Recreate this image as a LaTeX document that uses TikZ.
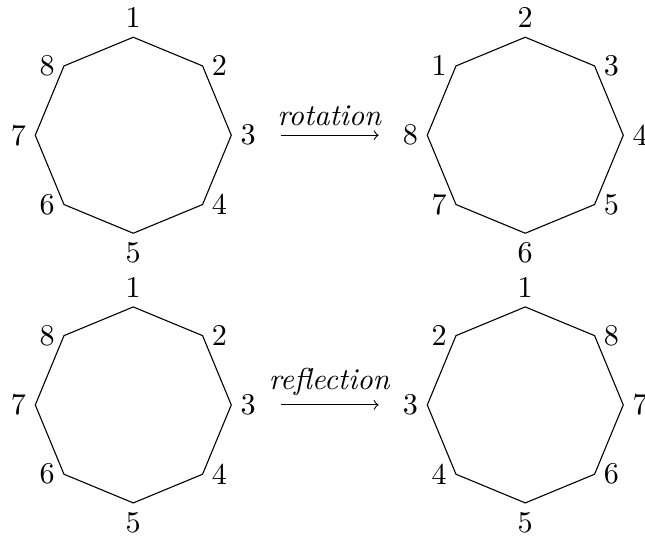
\documentclass[tikz,border=0pt]{standalone}
\usetikzlibrary{calc}
\tikzset{
  every node/.style={font=\fontsize{10.95}{13.6}\selectfont},
  edge/.style={draw, line width=0.4pt},
  vtx/.style={coordinate},
  arr/.style={->, line width=0.4pt},
  arrlab/.style={above, inner sep=3.2pt},
  every label/.style={inner sep=3.2pt}
}
\newcommand\octo[3]{%
  \coordinate (#1) at (#2);
  \foreach \t/\p [count=\i] in {#3} {
    \pgfmathsetmacro\ang{135-45*\i}
    \node[vtx, label=\p:{\t}] (#1-\i) at ($(#1)+(\ang:1.25)$) {};
  }
  \draw[edge] (#1-1) -- (#1-2) -- (#1-3) -- (#1-4) -- (#1-5) -- (#1-6) -- (#1-7) -- (#1-8) -- cycle;
}
\begin{document}
\begin{tikzpicture}
\useasboundingbox (-1.700,-5.151) rectangle (6.527,1.725);
\octo{A}{0,0}{1/above,2/right,3/right,4/right,5/below,6/left,7/left,8/left}
\octo{B}{5,0}{2/above,3/right,4/right,5/right,6/below,7/left,8/left,1/left}
\octo{C}{0,-3.44}{1/above,2/right,3/right,4/right,5/below,6/left,7/left,8/left}
\octo{D}{5,-3.44}{1/above,8/right,7/right,6/right,5/below,4/left,3/left,2/left}
\coordinate (r1) at (1.88,0);
\coordinate (r2) at (3.13,0);
\coordinate (f1) at (1.88,-3.44);
\coordinate (f2) at (3.13,-3.44);
\draw[arr] (r1) -- node[arrlab] (rl) {\textit{rotation}} (r2);
\draw[arr] (f1) -- node[arrlab] (fl) {\textit{reflection}} (f2);
\end{tikzpicture}
\end{document}
